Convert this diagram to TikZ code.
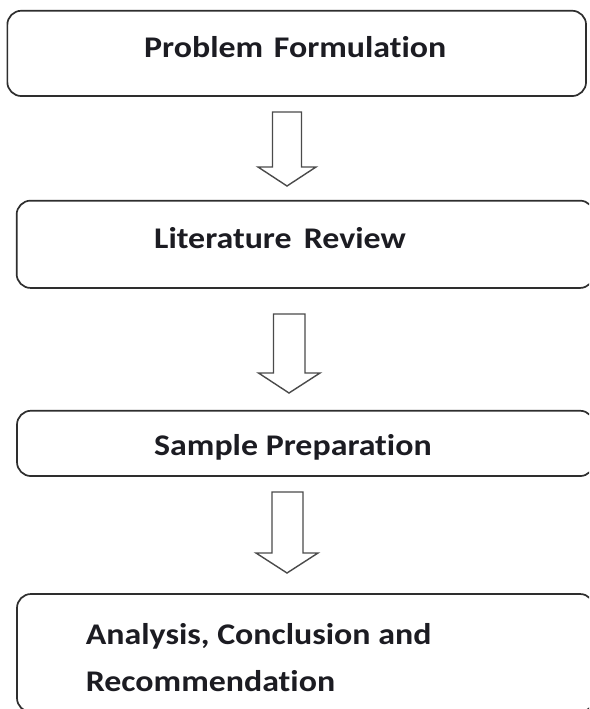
\documentclass[tikz,border=0pt]{standalone}
\usepackage{fontspec}
\setmainfont{Carlito}[Ligatures={NoCommon,NoRare,NoContextual},FakeStretch=1.13]
\begin{document}
\begin{tikzpicture}[x=1pt,y=-1pt,
  stagebox/.style={draw=boxline,line width=1.7pt,rounded corners=14pt,inner sep=0pt},
  stagetext/.style={anchor=base west,inner sep=0pt,font=\fontsize{30}{30}\selectfont\bfseries,text=txt},
  flowarrow/.style={draw=arrline,line width=1.4pt,fill=white,line join=miter}]
\definecolor{boxline}{HTML}{2E2E2E}
\definecolor{arrline}{HTML}{4A4A4A}
\definecolor{txt}{HTML}{1C1C22}
\useasboundingbox (0,0) rectangle (589,709);
\clip (0,0) rectangle (589,709);
\fill[white] (0,0) rectangle (589,709);
% boxes
\node[stagebox,minimum width=578.7pt,minimum height=85.3pt] (b1) at (296.7,53.4) {};
\node[stagebox,minimum width=577.3pt,minimum height=87.3pt] (b2) at (305.3,244.3) {};
\node[stagebox,minimum width=577pt,minimum height=65.3pt] (b3) at (305.5,443.4) {};
\node[stagebox,minimum width=577pt,minimum height=118pt] (b4) at (305.5,653) {};
% texts
\node[stagetext] (t1) at (144,57.7) {Problem\hspace{0.1em} Formulation};
\node[stagetext] (t2) at (154,248) {Literature\hspace{0.15em} Review};
\node[stagetext] (t3) at (154,455.5) {Sample Preparation};
\node[stagetext] (t4a) at (85.6,644.3) {Analysis, Conclusion and};
\node[stagetext] (t4b) at (85.6,691.7) {Recommendation};
% arrows
\coordinate (a1) at (287,112);
\coordinate (a2) at (289,314);
\coordinate (a3) at (287,492);
\draw[flowarrow] (a1) ++(-14.5,0) -- ++(0,55) -- ++(-14.5,0) -- (287,186) -- (316,167) -- ++(-14.5,0) -- ++(0,-55) -- cycle;
\draw[flowarrow] (a2) ++(-15.5,0) -- ++(0,59) -- ++(-15,0) -- (289,393) -- (320,373) -- ++(-15,0) -- ++(0,-59) -- cycle;
\draw[flowarrow] (a3) ++(-15,0) -- ++(0,61) -- ++(-16,0) -- (287,573) -- (318,553) -- ++(-15,0) -- ++(0,-61) -- cycle;
\end{tikzpicture}
\end{document}
